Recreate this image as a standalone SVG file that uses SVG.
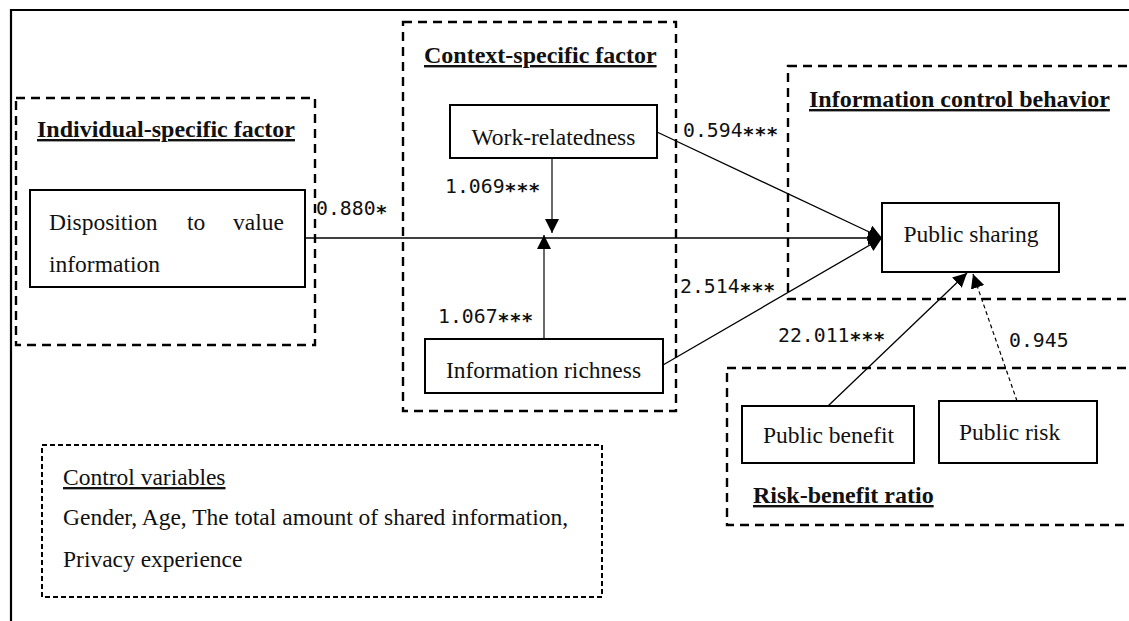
<svg xmlns="http://www.w3.org/2000/svg" width="1129" height="621" viewBox="0 0 1129 621">
<style>
  .frame{fill:none;stroke:#000;stroke-width:2.2}
  .grp{fill:none;stroke:#000;stroke-width:2.4;stroke-dasharray:9,6}
  .grp2{fill:none;stroke:#000;stroke-width:2;stroke-dasharray:5,3}
  .node{fill:#fff;stroke:#000;stroke-width:2}
  .t{font-family:"Liberation Serif","Times New Roman",serif;font-size:23.5px;fill:#111}
  .title{font-family:"Liberation Serif","Times New Roman",serif;font-size:24px;font-weight:bold;fill:#111;text-decoration:underline}
  .lbl{font-family:"DejaVu Sans Mono",monospace;font-size:19.8px;fill:#111}
  .ast{font-weight:bold}
  .c{stroke:#000;stroke-width:1.3;fill:none}
  .cg{stroke:#444;stroke-width:1.6;fill:none}
  .cd{stroke:#000;stroke-width:1.2;fill:none;stroke-dasharray:4,3}
</style>
<defs>
  <marker id="ah" markerUnits="userSpaceOnUse" markerWidth="15" markerHeight="15" refX="14" refY="7" orient="auto">
    <path d="M0,0 L14,7 L0,14 Z" fill="#000"/>
  </marker>
</defs>
<rect width="1129" height="621" fill="#fff"/>
<path class="frame" d="M11,621 L11,10 L1129,10"/>

<g id="group-individual">
  <rect class="grp" x="16" y="98" width="299" height="247"/>
  <text class="title" x="37" y="137">Individual-specific factor</text>
</g>
<g id="group-context">
  <rect class="grp" x="403" y="22" width="273" height="389"/>
  <text class="title" x="424" y="63">Context-specific factor</text>
</g>
<g id="group-behavior">
  <rect class="grp" x="788" y="66" width="360" height="233"/>
  <text class="title" x="809" y="107">Information control behavior</text>
</g>
<g id="group-riskbenefit">
  <rect class="grp" x="727" y="368" width="420" height="157"/>
  <text class="title" x="753" y="503">Risk-benefit ratio</text>
</g>

<g id="connectors">
  <line class="c" x1="305" y1="238" x2="882" y2="238" marker-end="url(#ah)"/>
  <line class="c" x1="657" y1="132" x2="882" y2="238" marker-end="url(#ah)"/>
  <line class="c" x1="663" y1="365" x2="882" y2="238" marker-end="url(#ah)"/>
  <line class="cg" x1="552" y1="158" x2="552" y2="233" marker-end="url(#ah)"/>
  <line class="cg" x1="544" y1="339" x2="544" y2="235" marker-end="url(#ah)"/>
  <line class="c" x1="828" y1="406" x2="967" y2="273" marker-end="url(#ah)"/>
  <line class="cd" x1="1017" y1="401" x2="973" y2="274" marker-end="url(#ah)"/>
  <text class="lbl" x="316" y="215">0.880<tspan class="ast" dy="4">*</tspan></text>
  <text class="lbl" x="445" y="193">1.069<tspan class="ast" dy="4">***</tspan></text>
  <text class="lbl" x="683" y="137">0.594<tspan class="ast" dy="4">***</tspan></text>
  <text class="lbl" x="438" y="323">1.067<tspan class="ast" dy="4">***</tspan></text>
  <text class="lbl" x="680" y="293">2.514<tspan class="ast" dy="4">***</tspan></text>
  <text class="lbl" x="778" y="342">22.011<tspan class="ast" dy="4">***</tspan></text>
  <text class="lbl" x="1009" y="347">0.945</text>
</g>

<g id="node-disposition">
  <rect class="node" x="30" y="190" width="275" height="97"/>
  <text class="t" y="230"><tspan x="49">Disposition</tspan><tspan x="187">to</tspan><tspan x="233">value</tspan></text>
  <text class="t" x="49" y="272">information</text>
</g>
<g id="node-work">
  <rect class="node" x="450" y="105" width="207" height="53"/>
  <text class="t" x="553.5" y="145" text-anchor="middle">Work-relatedness</text>
</g>
<g id="node-richness">
  <rect class="node" x="425" y="339" width="238" height="54"/>
  <text class="t" x="543.5" y="378" text-anchor="middle">Information richness</text>
</g>
<g id="node-sharing">
  <rect class="node" x="882" y="203" width="177" height="69"/>
  <text class="t" x="971" y="242" text-anchor="middle">Public sharing</text>
</g>
<g id="node-benefit">
  <rect class="node" x="742" y="406" width="172" height="57"/>
  <text class="t" x="828.5" y="443" text-anchor="middle">Public benefit</text>
</g>
<g id="node-risk">
  <rect class="node" x="939" y="401" width="158" height="62"/>
  <text class="t" x="959" y="440">Public risk</text>
</g>
<g id="node-control">
  <rect class="grp2" x="42" y="445" width="560" height="152"/>
  <text class="t" x="63" y="485" text-decoration="underline">Control variables</text>
  <text class="t" x="63" y="525">Gender, Age, The total amount of shared information,</text>
  <text class="t" x="63" y="567">Privacy experience</text>
</g>
</svg>
